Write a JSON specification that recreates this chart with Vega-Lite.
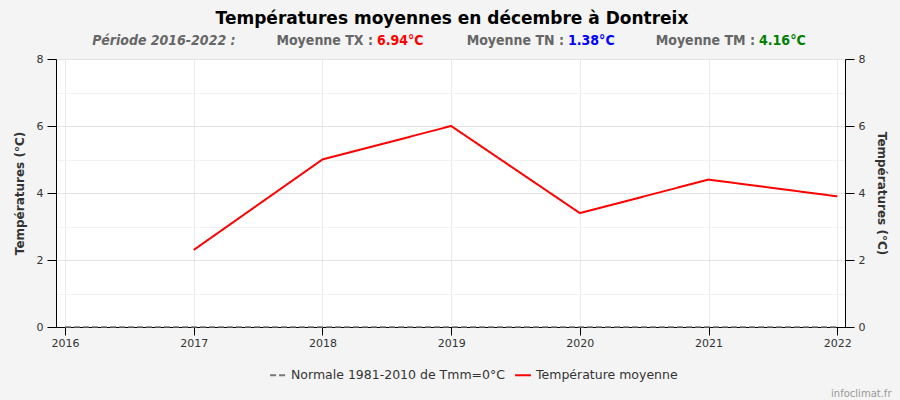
{
  "$schema": "https://vega.github.io/schema/vega-lite/v6.json",
  "background": "#f4f4f4",
  "padding": {"left": 12, "top": 10, "right": 10, "bottom": 3},
  "bounds": "flush",
  "spacing": 11,
  "title": {"text": "Températures moyennes en décembre à Dontreix", "font": "DejaVu Sans", "fontSize": 17, "fontWeight": "bold", "color": "#000", "anchor": "middle", "offset": 6},
  "config": {"view": {"stroke": null}, "font": "DejaVu Sans"},
  "vconcat": [
    {
      "width": 789,
      "height": 14,
      "data": {"values": [
        {"item": "P", "label": "Période 2016-2022 :", "value": ""},
        {"item": "TX", "label": "Moyenne TX :", "value": "6.94°C"},
        {"item": "TN", "label": "Moyenne TN :", "value": "1.38°C"},
        {"item": "TM", "label": "Moyenne TM :", "value": "4.16°C"}
      ]},
      "encoding": {"x": {"field": "item", "type": "nominal", "scale": {"type": "point", "domain": ["P", "TX", "TN", "TM"], "padding": 0.565}, "axis": null}},
      "layer": [
        {"transform": [{"filter": "datum.item === 'P'"}],
         "mark": {"type": "text", "align": "center", "baseline": "middle", "font": "DejaVu Sans Condensed", "fontSize": 14, "fontWeight": "bold", "fontStyle": "italic", "color": "#666666"},
         "encoding": {"text": {"field": "label"}}},
        {"transform": [{"filter": "datum.item !== 'P'"}],
         "mark": {"type": "text", "align": "right", "baseline": "middle", "dx": 18, "font": "DejaVu Sans Condensed", "fontSize": 14, "fontWeight": "bold", "color": "#666666"},
         "encoding": {"text": {"field": "label"}}},
        {"transform": [{"filter": "datum.item === 'TX'"}],
         "mark": {"type": "text", "align": "left", "baseline": "middle", "dx": 22, "font": "DejaVu Sans Condensed", "fontSize": 14, "fontWeight": "bold", "color": "#ff0000"},
         "encoding": {"text": {"field": "value"}}},
        {"transform": [{"filter": "datum.item === 'TN'"}],
         "mark": {"type": "text", "align": "left", "baseline": "middle", "dx": 22, "font": "DejaVu Sans Condensed", "fontSize": 14, "fontWeight": "bold", "color": "#0000ff"},
         "encoding": {"text": {"field": "value"}}},
        {"transform": [{"filter": "datum.item === 'TM'"}],
         "mark": {"type": "text", "align": "left", "baseline": "middle", "dx": 22, "font": "DejaVu Sans Condensed", "fontSize": 14, "fontWeight": "bold", "color": "#008000"},
         "encoding": {"text": {"field": "value"}}}
      ]
    },
    {
      "width": 789,
      "height": 268,
      "view": {"fill": "white", "stroke": "#e6e6e6"},
      "layer": [
        {
          "data": {"values": [
            {"year": 2016, "temp": 0, "series": "Normale 1981-2010 de Tmm=0°C"},
            {"year": 2022, "temp": 0, "series": "Normale 1981-2010 de Tmm=0°C"}
          ]},
          "mark": {"type": "line", "strokeWidth": 1.5},
          "encoding": {
            "x": {"field": "year", "type": "quantitative", "scale": {"domain": [2015.93, 2022.06], "nice": false, "zero": false},
              "axis": {"values": [2016, 2017, 2018, 2019, 2020, 2021, 2022], "format": "d", "grid": true, "gridColor": "#e9e9e9",
                "domainColor": "#000", "tickColor": "#000", "tickSize": 8, "labelFontSize": 11, "labelColor": "#333", "labelPadding": 2,
                "title": "infoclimat.fr", "titleFontSize": 10, "titleFontWeight": "normal", "titleColor": "#999", "titleAlign": "right", "titleAnchor": "end", "titleX": 835, "titleY": 66, "titleBaseline": "middle"}},
            "y": {"field": "temp", "type": "quantitative", "scale": {"domain": [0, 8], "nice": false},
              "axis": {"orient": "right", "values": [0, 2, 4, 6, 8], "format": "d", "grid": false, "domainColor": "#000", "tickColor": "#000", "tickSize": 9,
                "labelFontSize": 11, "labelColor": "#333", "labelPadding": 4, "title": "Températures (°C)", "titleFontSize": 12, "titleFontWeight": "bold", "titleColor": "#333", "titlePadding": 10}},
            "color": {"field": "series", "type": "nominal", "scale": {"domain": ["Normale 1981-2010 de Tmm=0°C", "Température moyenne"], "range": ["#777777", "#ff0000"]},
              "legend": {"title": null, "orient": "none", "legendX": 213, "legendY": 332, "direction": "horizontal", "symbolType": "stroke", "symbolStrokeWidth": 2, "symbolSize": 250, "labelFontSize": 12.5, "labelColor": "#333", "labelLimit": 400, "columnPadding": 6}},
            "strokeDash": {"field": "series", "type": "nominal", "scale": {"domain": ["Normale 1981-2010 de Tmm=0°C", "Température moyenne"], "range": [[6, 3], [1, 0]]},
              "legend": {"title": null, "orient": "none", "legendX": 213, "legendY": 332, "direction": "horizontal", "symbolType": "stroke", "symbolStrokeWidth": 2, "symbolSize": 250, "labelFontSize": 12.5, "labelColor": "#333", "labelLimit": 400, "columnPadding": 6}}
          }
        },
        {
          "data": {"values": [
            {"year": 2017, "temp": 2.3, "series": "Température moyenne"},
            {"year": 2018, "temp": 5.0, "series": "Température moyenne"},
            {"year": 2019, "temp": 6.0, "series": "Température moyenne"},
            {"year": 2020, "temp": 3.4, "series": "Température moyenne"},
            {"year": 2021, "temp": 4.4, "series": "Température moyenne"},
            {"year": 2022, "temp": 3.9, "series": "Température moyenne"}
          ]},
          "mark": {"type": "line", "strokeWidth": 2},
          "encoding": {
            "x": {"field": "year", "type": "quantitative"},
            "y": {"field": "temp", "type": "quantitative",
              "axis": {"orient": "left", "values": [0, 0.5, 1, 1.5, 2, 2.5, 3, 3.5, 4, 4.5, 5, 5.5, 6, 6.5, 7, 7.5, 8],
                "format": "d",
                "labelExpr": "datum.value % 2 === 0 ? datum.label : ''",
                "grid": true,
                "gridColor": {"condition": {"test": "datum.value % 2 === 0", "value": "#e3e3e3"}, "value": "#f2f2f2"},
                "tickOpacity": {"condition": {"test": "datum.value % 2 === 0", "value": 1}, "value": 0},
                "domainColor": "#000", "tickColor": "#000", "tickSize": 9,
                "labelFontSize": 11, "labelColor": "#333", "labelPadding": 4, "title": "Températures (°C)", "titleFontSize": 12, "titleFontWeight": "bold", "titleColor": "#333", "titlePadding": 10}},
            "color": {"field": "series", "type": "nominal"},
            "strokeDash": {"field": "series", "type": "nominal"}
          }
        }
      ],
      "resolve": {"axis": {"y": "independent"}}
    }
  ]
}
